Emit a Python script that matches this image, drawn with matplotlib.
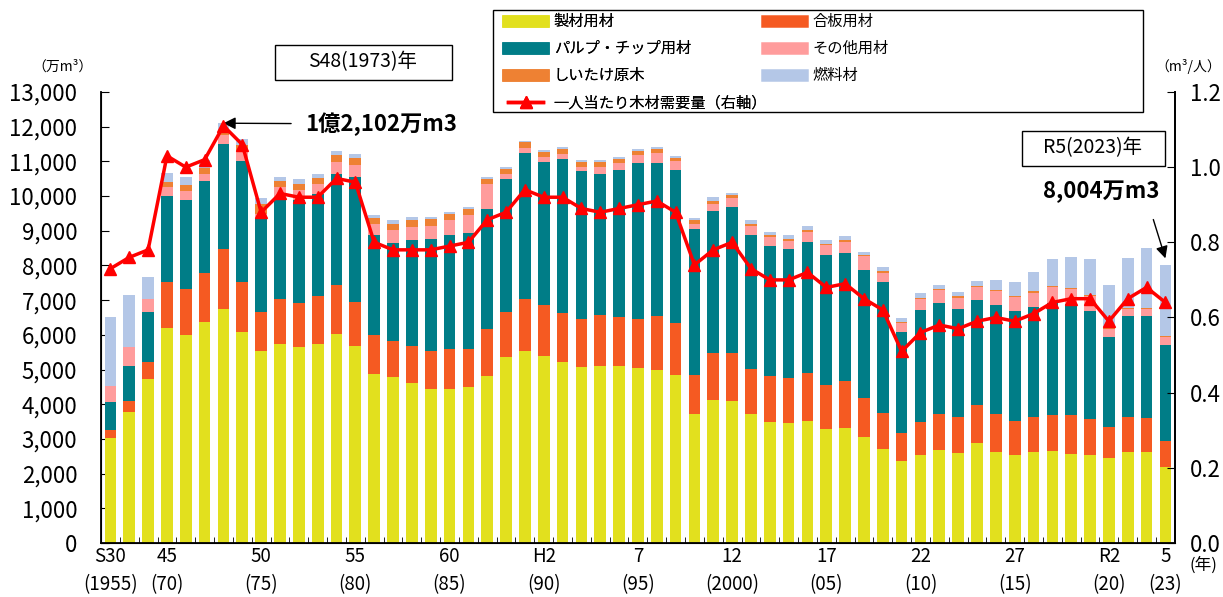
import matplotlib
matplotlib.use("Agg")
import matplotlib.pyplot as plt
from matplotlib.lines import Line2D
from matplotlib.patches import Rectangle
from matplotlib.ticker import FuncFormatter
import numpy as np

plt.rcParams['font.family'] = ['Noto Sans CJK JP', 'DejaVu Sans']

# years shown: 1955, 1960, 1965, then every year 1970-2023
years = [1955, 1960, 1965] + list(range(1970, 2024))

# demand by use (万m3)
sawn = [3030, 3780, 4720, 6210, 5990, 6360, 6750, 6070, 5530, 5740,
        5660, 5750, 6020, 5680, 4870, 4790, 4600, 4450, 4450, 4490,
        4810, 5360, 5540, 5390, 5230, 5060, 5110, 5100, 5040, 4980,
        4840, 3710, 4120, 4100, 3710, 3490, 3470, 3510, 3280, 3300,
        3050, 2700, 2360, 2530, 2670, 2600, 2870, 2610, 2530, 2610,
        2650, 2570, 2530, 2460, 2620, 2620, 2180]
plywood = [220, 310, 510, 1300, 1320, 1430, 1720, 1460, 1120, 1300,
           1260, 1370, 1410, 1280, 1120, 1040, 1090, 1080, 1140, 1090,
           1360, 1310, 1480, 1460, 1410, 1390, 1460, 1410, 1420, 1560,
           1510, 1120, 1370, 1370, 1300, 1320, 1280, 1380, 1270, 1370,
           1120, 1040, 810, 960, 1050, 1020, 1110, 1120, 990, 1020,
           1050, 1110, 1040, 890, 1020, 990, 760]
pulp = [820, 1010, 1420, 2490, 2580, 2630, 3040, 3490, 2730, 2930,
        2970, 2940, 3200, 3580, 2900, 2830, 3050, 3230, 3280, 3360,
        3450, 3830, 4230, 4120, 4430, 4260, 4070, 4230, 4490, 4400,
        4390, 4210, 4090, 4220, 3880, 3760, 3710, 3790, 3750, 3700,
        3700, 3780, 2900, 3220, 3210, 3120, 3020, 3130, 3180, 3170,
        3210, 3200, 3130, 2600, 2890, 2940, 2760]
other = [450, 560, 390, 270, 260, 230, 260, 270, 100, 290,
         290, 280, 350, 370, 310, 360, 380, 390, 430, 520,
         720, 140, 150, 150, 150, 140, 190, 210, 230, 310,
         260, 160, 200, 250, 240, 240, 240, 290, 290, 320,
         390, 270, 270, 320, 350, 330, 370, 400, 390, 420,
         480, 450, 420, 220, 210, 200, 250]
shiitake = [0, 0, 0, 140, 170, 170, 140, 180, 300, 180,
            180, 170, 190, 180, 180, 180, 180, 190, 190, 180,
            160, 150, 150, 150, 130, 140, 140, 120, 110, 110,
            90, 100, 90, 80, 70, 60, 60, 60, 40, 50,
            50, 50, 40, 40, 50, 40, 40, 30, 40, 30,
            30, 30, 30, 20, 20, 20, 20]
fuel = [1990, 1490, 640, 260, 230, 220, 190, 170, 160, 120,
        130, 120, 120, 130, 70, 100, 90, 70, 50, 50,
        50, 60, 50, 50, 60, 50, 60, 60, 60, 60,
        60, 80, 100, 70, 100, 90, 110, 110, 110, 100,
        80, 110, 110, 130, 120, 130, 130, 290, 400, 570,
        770, 890, 1040, 1250, 1450, 1720, 2034]

# per-capita demand (m3/person, right axis)
per_capita = [0.73, 0.76, 0.78, 1.03, 1.00, 1.02, 1.11, 1.06, 0.88, 0.93,
              0.92, 0.92, 0.97, 0.96, 0.80, 0.78, 0.78, 0.78, 0.79, 0.80,
              0.86, 0.88, 0.94, 0.92, 0.92, 0.89, 0.88, 0.89, 0.90, 0.91,
              0.88, 0.74, 0.78, 0.80, 0.73, 0.70, 0.70, 0.72, 0.68, 0.69,
              0.65, 0.62, 0.51, 0.56, 0.58, 0.57, 0.59, 0.60, 0.59, 0.61,
              0.64, 0.65, 0.65, 0.59, 0.65, 0.68, 0.64]

series_names = ["製材用材", "合板用材", "パルプ・チップ用材", "その他用材", "しいたけ原木", "燃料材"]
series_colors = ["#E2E01E", "#F55A22", "#007D87", "#FF9C9C", "#EE8133", "#B4C7E7"]
line_name = "一人当たり木材需要量（右軸）"

tick_years = [1955, 1970, 1975, 1980, 1985, 1990, 1995, 2000, 2005, 2010, 2015, 2020, 2023]
tick_labels = ["S30\n(1955)", "45\n(70)", "50\n(75)", "55\n(80)", "60\n(85)", "H2\n(90)",
               "7\n(95)", "12\n(2000)", "17\n(05)", "22\n(10)", "27\n(15)", "R2\n(20)", "5\n(23)"]

x = np.arange(len(years))

fig = plt.figure(figsize=(12.23, 5.97), dpi=100)
ax = fig.add_axes([0.0826, 0.0905, 0.878, 0.7554])

bottom = np.zeros(len(years))
for vals, name, col in zip([sawn, plywood, pulp, other, shiitake, fuel], series_names, series_colors):
    ax.bar(x, vals, 0.62, bottom=bottom, color=col, label=name, zorder=2)
    bottom += np.array(vals)

ax.set_xlim(-0.5, len(years) - 0.5)
ax.set_ylim(0, 13000)
ax.set_yticks(np.arange(0, 13001, 1000))
ax.yaxis.set_major_formatter(FuncFormatter(lambda v, p: f"{int(v):,}"))
ax.tick_params(axis='y', direction='in', length=6, labelsize=16, pad=17)
ax.set_xticks([years.index(y) for y in tick_years])
ax.set_xticklabels(tick_labels, fontsize=13.5, linespacing=1.45)
ax.set_xticks(x[:-1] + 0.5, minor=True)
ax.tick_params(axis='x', which='major', length=0, pad=2)
ax.tick_params(axis='x', which='minor', direction='in', length=4)
ax.spines['top'].set_visible(False)
for s in ['left', 'bottom', 'right']:
    ax.spines[s].set_linewidth(1.3)

ax2 = ax.twinx()
ax2.plot(x, per_capita, color="#FF0000", lw=2.5, marker='^', markersize=8, zorder=5)
ax2.set_ylim(0, 1.2)
ax2.set_yticks(np.arange(0, 1.21, 0.2))
ax2.yaxis.set_major_formatter(FuncFormatter(lambda v, p: f"{v:.1f}"))
ax2.tick_params(axis='y', direction='in', length=6, labelsize=16, pad=11)
ax2.spines['top'].set_visible(False)
ax2.spines['right'].set_linewidth(1.3)

# legend: two columns placed separately inside one frame
h = [Line2D([], [], color=c, lw=9) for c in series_colors]
h_line = Line2D([], [], color="#FF0000", lw=2.5, marker='^', markersize=8)
leg_kw = dict(loc='upper left', fontsize=11, frameon=False, handlelength=2.3,
              handletextpad=0.7, labelspacing=0.66, borderpad=0, borderaxespad=0)
leg1 = fig.legend([h[0], h[2], h[4], h_line],
                  [series_names[0], series_names[2], series_names[4], line_name],
                  bbox_to_anchor=(508 / 1223, 1 - 13 / 597), **leg_kw)
fig.add_artist(leg1)
fig.legend([h[1], h[3], h[5]], [series_names[1], series_names[3], series_names[5]],
           bbox_to_anchor=(767 / 1223, 1 - 13 / 597), **leg_kw)
fig.patches.append(Rectangle((493 / 1223, 1 - 112 / 597), 650 / 1223, 102 / 597,
                             transform=fig.transFigure, fill=False, edgecolor='black', lw=1))

# annotations
fig.patches.append(Rectangle((275 / 1223, 1 - 80 / 597), 177 / 1223, 35 / 597,
                             transform=fig.transFigure, fill=False, edgecolor='black', lw=1))
fig.text(363 / 1223, 1 - 62 / 597, "S48(1973)年", ha='center', va='center', fontsize=14)
fig.patches.append(Rectangle((1022 / 1223, 1 - 166 / 597), 143 / 1223, 35 / 597,
                             transform=fig.transFigure, fill=False, edgecolor='black', lw=1))
fig.text(1093 / 1223, 1 - 148 / 597, "R5(2023)年", ha='center', va='center', fontsize=14)

ax.annotate("1億2,102万m3", xy=(years.index(1973), bottom[years.index(1973)]),
            xytext=(305 / 1223, 1 - 124 / 597), textcoords='figure fraction',
            ha='left', va='center', fontsize=16, fontweight='bold',
            arrowprops=dict(arrowstyle='-|>', color='black', lw=1, mutation_scale=18,
                            shrinkA=8, shrinkB=0))
ax.annotate("8,004万m3", xy=(years.index(2023), bottom[-1] + 200),
            xytext=(1160 / 1223, 1 - 192 / 597), textcoords='figure fraction',
            ha='right', va='center', fontsize=16, fontweight='bold',
            arrowprops=dict(arrowstyle='-|>', color='black', lw=1, mutation_scale=18,
                            shrinkA=10, shrinkB=0, relpos=(0.9, 0.0)))

fig.text(62 / 1223, 1 - 67 / 597, "（万m³）", ha='center', va='center', fontsize=10)
fig.text(1188 / 1223, 1 - 66 / 597, "（m³/人）", ha='center', va='center', fontsize=10)
fig.text(1203 / 1223, 1 - 565 / 597, "(年)", ha='center', va='center', fontsize=12)

fig.savefig("out.png", dpi=100)
